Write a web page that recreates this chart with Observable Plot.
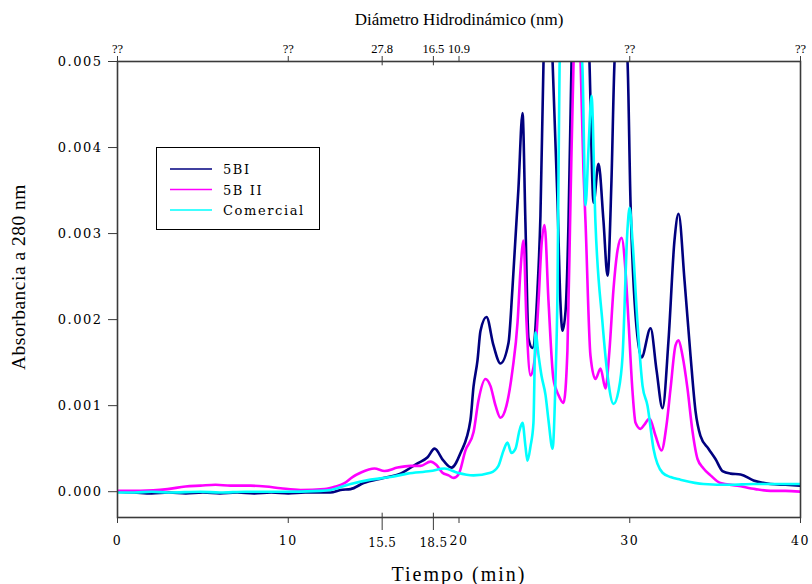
<!DOCTYPE html>
<html><head><meta charset="utf-8">
<script src="https://cdn.jsdelivr.net/npm/d3@7"></script>
<script src="https://cdn.jsdelivr.net/npm/@observablehq/plot@0.6"></script>
<style>body{margin:0;background:#fff}</style>
</head><body><div id="chart"></div>
<script>
const seriesNames = ["5BI", "5B II", "Comercial"];
const seriesColors = ["#00007f", "#ff00ff", "#00ffff"];

// [time (min), absorbance at 280 nm]
const s5BI = [[0,0],[1,-0.00001],[2,-0.00002],[3,-0.00001],[4,-0.00002],[5,-0.00001],[6,-0.00002],[7,-0.00001],[8,-0.00002],[9,-0.00001],[10,-0.00002],[11,-0.00001],[12,-0.00001],[12.47,-0.00001],[13.06,0.00002],[13.65,0.00003],[14.41,0.0001],[15.58,0.00016],[16.57,0.00021],[17.57,0.00033],[18.16,0.0004],[18.57,0.0005],[19.09,0.00036],[19.56,0.00028],[20.09,0.00045],[20.67,0.00083],[20.85,0.00122],[21.08,0.00152],[21.26,0.00187],[21.61,0.00203],[22.02,0.0017],[22.43,0.00149],[22.9,0.00173],[23.13,0.00236],[23.48,0.00352],[23.72,0.0044],[23.89,0.00313],[24.07,0.00178],[24.3,0.00167],[24.6,0.00236],[24.77,0.00321],[24.95,0.005],[25.15,0.0062],[25.48,0.005],[25.77,0.00337],[25.94,0.0022],[26.06,0.00187],[26.24,0.0021],[26.41,0.0031],[26.59,0.005],[27.12,0.0078],[27.64,0.005],[27.88,0.00336],[28.17,0.00381],[28.46,0.00315],[28.7,0.00251],[28.93,0.00362],[29.11,0.005],[29.5,0.0058],[29.87,0.005],[30.04,0.0034],[30.28,0.00222],[30.69,0.00156],[31.22,0.0019],[31.57,0.00141],[31.92,0.00097],[32.27,0.00176],[32.62,0.00292],[32.86,0.00323],[33.21,0.00245],[33.56,0.00158],[33.85,0.00094],[34.14,0.00065],[34.61,0.0005],[35.02,0.00038],[35.43,0.00024],[35.9,0.00021],[36.49,0.0002],[37.25,0.00013],[38.24,0.00009],[39.12,0.00008],[40,0.00007]];

const s5BII = [[0,0.00001],[1.35,0.00001],[2.93,0.00003],[3.98,0.00006],[4.86,0.00007],[5.74,0.00008],[6.62,0.00007],[7.79,0.00007],[8.67,0.00006],[9.55,0.00004],[10.72,0.00002],[12.12,0.00003],[12.77,0.00006],[13.29,0.0001],[13.76,0.00017],[14.23,0.00022],[15.05,0.00027],[15.64,0.00024],[16.4,0.00028],[17.16,0.0003],[17.75,0.0003],[18.33,0.00035],[18.68,0.00031],[19.03,0.00022],[19.39,0.00019],[19.68,0.00016],[19.97,0.0002],[20.38,0.00048],[20.85,0.00069],[21.14,0.00106],[21.55,0.00131],[21.84,0.00123],[22.14,0.001],[22.43,0.00086],[22.78,0.001],[23.13,0.00141],[23.43,0.00197],[23.6,0.00257],[23.78,0.00292],[23.95,0.00199],[24.19,0.00135],[24.42,0.00152],[24.66,0.00222],[24.83,0.00286],[25.01,0.0031],[25.24,0.00222],[25.53,0.00131],[25.83,0.00112],[26.12,0.00103],[26.35,0.00164],[26.53,0.00338],[26.71,0.005],[26.94,0.0058],[27.12,0.005],[27.29,0.00373],[27.41,0.00313],[27.7,0.00158],[27.99,0.00131],[28.29,0.00143],[28.58,0.0012],[28.81,0.00164],[29.05,0.00236],[29.28,0.0028],[29.52,0.00295],[29.75,0.00257],[29.93,0.00197],[30.16,0.00117],[30.34,0.0008],[30.63,0.00073],[30.86,0.00078],[31.16,0.00085],[31.51,0.00065],[31.86,0.00048],[32.15,0.00077],[32.39,0.0012],[32.68,0.0017],[32.86,0.00176],[33.09,0.00158],[33.38,0.0012],[33.67,0.00071],[33.97,0.00038],[34.32,0.00027],[34.73,0.00019],[35.31,0.0001],[36.31,0.00007],[37.36,0.00003],[38.24,0.00001],[39.12,0.00001],[40,0]];

const sComercial = [[0,-0.00001],[1,-0.00001],[2,0],[3,-0.00001],[4.86,0],[6,-0.00001],[7.5,0],[9.55,0],[11.89,0.00001],[12.47,0.00002],[13.65,0.00009],[14.82,0.00014],[15.99,0.00017],[16.98,0.00021],[18.33,0.00024],[19.15,0.00027],[19.91,0.00022],[20.85,0.00019],[21.84,0.00022],[22.31,0.0003],[22.61,0.00048],[22.84,0.00057],[23.07,0.00045],[23.31,0.0005],[23.54,0.00071],[23.72,0.0008],[23.89,0.00053],[24.01,0.00036],[24.19,0.00053],[24.36,0.0008],[24.48,0.00185],[24.66,0.00158],[24.83,0.00135],[25.07,0.00112],[25.24,0.00083],[25.48,0.0005],[25.65,0.00129],[25.77,0.00236],[25.89,0.00495],[26.53,0.0065],[27.23,0.00492],[27.41,0.00333],[27.58,0.00397],[27.76,0.0046],[27.99,0.00313],[28.4,0.00197],[28.7,0.00135],[29.05,0.00102],[29.34,0.00117],[29.58,0.00158],[29.87,0.00306],[29.99,0.0033],[30.16,0.00292],[30.45,0.00197],[30.75,0.00123],[31.04,0.001],[31.39,0.0005],[31.92,0.00022],[32.39,0.00017],[32.97,0.00014],[34.32,0.00009],[35.9,0.00008],[37.25,0.00009],[38.83,0.00009],[40,0.00009]];

const yTicks = [0, 0.001, 0.002, 0.003, 0.004, 0.005];
const xTicksMain = [0, 10, 20, 30, 40];
const xTicksExtra = [15.5, 18.5];
const topTicks = [0, 10, 15.5, 18.5, 20, 30, 40];
const topLabels = ["??", "??", "27.8", "16.5", "10.9", "??", "??"];

const xTitle = "Tiempo (min)";
const yTitle = "Absorbancia a 280 nm";
const topTitle = "Diámetro Hidrodinámico (nm)";

const seriesData = [s5BI, s5BII, sComercial];
const rows = seriesData.flatMap((arr, i) => arr.map(([t, v]) => ({t, v, s: seriesNames[i]})));
const topMap = new Map(topTicks.map((t, i) => [t, topLabels[i]]));
const axisColor = "#3a3a3a";

const plot = Plot.plot({
  width: 812, height: 584,
  marginLeft: 117, marginRight: 12, marginTop: 61, marginBottom: 67,
  style: {fontFamily: "DejaVu Serif", fontSize: "13px", letterSpacing: "1.5px", color: "#000", background: "#fff"},
  x: {domain: [0, 40]},
  y: {domain: [-0.0003, 0.005]},
  color: {domain: seriesNames, range: seriesColors},
  marks: [
    Plot.line(rows, {x: "t", y: "v", z: "s", stroke: "s", strokeWidth: 2.6, curve: "monotone-x", clip: true}),
    Plot.frame({stroke: axisColor, strokeWidth: 1.6}),
    Plot.axisY({ticks: yTicks, tickFormat: d3.format(".3f"), tickSize: 9, tickPadding: 6, label: null, stroke: axisColor}),
    Plot.axisX({anchor: "bottom", ticks: xTicksMain, tickSize: 6, tickPadding: 13, label: null, tickFormat: d => String(d), stroke: axisColor, fontSize: 12.5}),
    Plot.axisX({anchor: "bottom", ticks: xTicksExtra, tickSize: 13, tickPadding: 8, label: null, tickFormat: d => String(d), stroke: axisColor, fontSize: 12}),
    Plot.ruleX(xTicksExtra, {y1: -0.0003, y2: -0.00025, stroke: axisColor}),
    Plot.axisX({anchor: "top", ticks: topTicks, tickSize: 6, tickPadding: 3, label: null, tickFormat: d => topMap.get(d), fontFamily: "Liberation Serif", fontSize: 12.5, stroke: axisColor}),
    Plot.ruleX(xTicksExtra, {y1: 0.005, y2: 0.00495, stroke: axisColor})
  ]
});
document.getElementById("chart").appendChild(plot);

const svg = d3.select(plot);
// tighter spacing for the top (Times) tick labels and the crowded bottom labels
svg.selectAll('g[font-family="Liberation Serif"]').style("letter-spacing", "0px");
svg.selectAll('g[font-size="12"]').style("letter-spacing", "0.3px");

svg.append("text").attr("x", 459).attr("y", 25).attr("text-anchor", "middle")
  .style("font-family", "Liberation Serif").style("font-size", "17px").style("letter-spacing", "0px")
  .text(topTitle);
svg.append("text").attr("x", 459).attr("y", 581).attr("text-anchor", "middle")
  .style("font-family", "Liberation Serif").style("font-size", "20px").style("letter-spacing", "2px")
  .text(xTitle);
svg.append("text").attr("transform", "translate(25,277) rotate(-90)").attr("text-anchor", "middle")
  .style("font-family", "Liberation Serif").style("font-size", "19.5px").style("letter-spacing", "0.5px")
  .text(yTitle);

const lg = svg.append("g").attr("text-anchor", "start");
lg.append("rect").attr("x", 156.5).attr("y", 147.5).attr("width", 163).attr("height", 82)
  .attr("fill", "#fff").attr("stroke", "#000").attr("stroke-width", 1);
seriesNames.forEach((name, i) => {
  const y = 169 + i * 20.5;
  lg.append("line").attr("x1", 170).attr("x2", 212).attr("y1", y).attr("y2", y)
    .attr("stroke", seriesColors[i]).attr("stroke-width", 1.6);
  lg.append("text").attr("x", 223).attr("y", y + 5).attr("text-anchor", "start")
    .style("font-family", "DejaVu Serif").style("font-size", "13px").style("letter-spacing", "1.6px")
    .text(name);
});
</script>
</body></html>
